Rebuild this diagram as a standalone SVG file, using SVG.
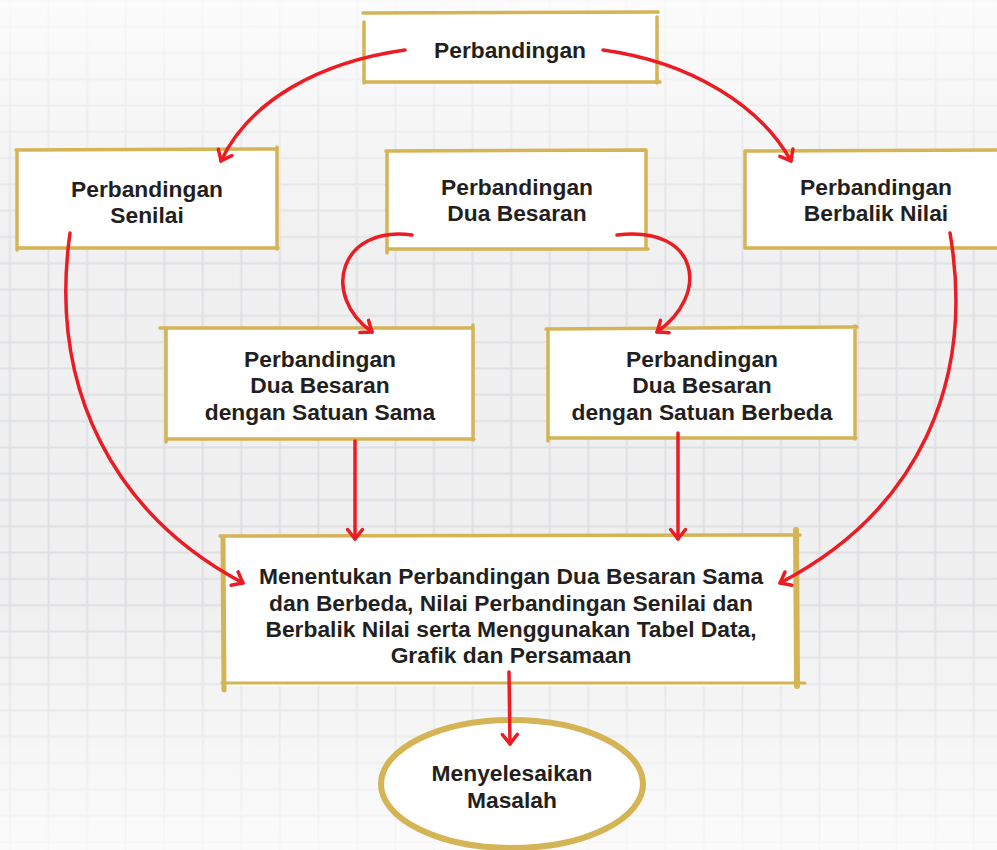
<svg xmlns="http://www.w3.org/2000/svg" width="997" height="850" viewBox="0 0 997 850">
  <defs>
    <pattern id="grid" patternUnits="userSpaceOnUse" x="-9.275" y="-12.85" width="38.55" height="26.3">
      <path d="M19.275,0 V26.3 M0,13.15 H38.55" stroke="#dcdde1" stroke-width="2" fill="none"/>
    </pattern>
    <linearGradient id="haze" x1="0" y1="0" x2="0" y2="1">
      <stop offset="0" stop-color="#ffffff" stop-opacity="0.8"/>
      <stop offset="0.3" stop-color="#ffffff" stop-opacity="0.1"/>
      <stop offset="0.7" stop-color="#ffffff" stop-opacity="0.05"/>
      <stop offset="1" stop-color="#ffffff" stop-opacity="0.75"/>
    </linearGradient>
    <marker id="head" viewBox="-12 -10 16 20" markerWidth="16" markerHeight="20" refX="0" refY="0" orient="auto" markerUnits="userSpaceOnUse">
      <path d="M-9.5,-7.5 Q-4,-3 0,0 Q-4,3 -9.5,7.5" fill="none" stroke="#ec1c24" stroke-width="3.5" stroke-linecap="round" stroke-linejoin="round"/>
    </marker>
    <style>
      .box { fill: #ffffff; }
      .edge { fill: none; stroke: #d4b455; stroke-width: 3.5; stroke-linecap: round; }
      .label { font-family: "Liberation Sans", Arial, sans-serif; font-weight: bold; font-size: 22.8px; fill: #231f20; text-anchor: middle; }
      .wire { fill: none; stroke: #ec1c24; stroke-width: 3.5; stroke-linecap: round; marker-end: url(#head); }
    </style>
  </defs>

  <!-- squared paper background -->
  <rect width="997" height="850" fill="#efefef"/>
  <rect width="997" height="850" fill="url(#grid)"/>
  <rect width="997" height="850" fill="url(#haze)"/>

  <!-- nodes -->
  <g id="perbandingan">
    <rect class="box" x="364" y="13" width="293" height="69"/>
    <path class="edge" d="M363,13 L658,12 M364,22 L364,83 M657,17 L657,83 M364,82 L660,82"/>
    <text class="label" x="510" y="58">Perbandingan</text>
  </g>

  <g id="senilai">
    <rect class="box" x="17" y="150" width="260" height="98"/>
    <path class="edge" d="M16,150 L277,149 M17,152 L17,250 M277,147 L277,249 M17,248 L278,248"/>
    <text class="label" x="147" y="197">Perbandingan</text>
    <text class="label" x="147" y="223">Senilai</text>
  </g>

  <g id="dua-besaran">
    <rect class="box" x="387" y="150" width="259" height="99"/>
    <path class="edge" d="M386,151 L645,150 M387,151 L387,253 M646,150 L646,249 M387,249 L648,249"/>
    <text class="label" x="517" y="195">Perbandingan</text>
    <text class="label" x="517" y="221">Dua Besaran</text>
  </g>

  <g id="berbalik-nilai">
    <rect class="box" x="745" y="150" width="252" height="98"/>
    <path class="edge" d="M745,151 L997,150 M745,152 L745,248 M745,248 L997,248"/>
    <text class="label" x="876" y="195">Perbandingan</text>
    <text class="label" x="876" y="221">Berbalik Nilai</text>
  </g>

  <g id="satuan-sama">
    <rect class="box" x="166" y="328" width="307" height="111"/>
    <path class="edge" d="M160,328 L473,328 M166,330 L166,442 M473,325 L473,440 M166,439 L474,439"/>
    <text class="label" x="320" y="367">Perbandingan</text>
    <text class="label" x="320" y="393">Dua Besaran</text>
    <text class="label" x="320" y="420">dengan Satuan Sama</text>
  </g>

  <g id="satuan-berbeda">
    <rect class="box" x="548" y="328" width="307" height="110"/>
    <path class="edge" d="M546,329 L857,327 M548,331 L548,441 M855,326 L855,439 M548,438 L856,438"/>
    <text class="label" x="702" y="367">Perbandingan</text>
    <text class="label" x="702" y="393">Dua Besaran</text>
    <text class="label" x="702" y="420">dengan Satuan Berbeda</text>
  </g>

  <g id="menentukan">
    <rect class="box" x="222" y="536" width="575" height="150"/>
    <path class="edge" d="M220,536 L800,535"/>
    <path class="edge" d="M223,538 L224,690" style="stroke-width:5"/>
    <path class="edge" d="M796,530 L797,686" style="stroke-width:6"/>
    <path class="edge" d="M222,683 L805,683" style="stroke-width:3"/>
    <text class="label" x="511" y="584">Menentukan Perbandingan Dua Besaran Sama</text>
    <text class="label" x="511" y="611">dan Berbeda, Nilai Perbandingan Senilai dan</text>
    <text class="label" x="511" y="637">Berbalik Nilai serta Menggunakan Tabel Data,</text>
    <text class="label" x="511" y="663">Grafik dan Persamaan</text>
  </g>

  <g id="menyelesaikan">
    <ellipse cx="512" cy="784" rx="131" ry="64" fill="#ffffff" stroke="#d4b455" stroke-width="6"/>
    <text class="label" x="512" y="781">Menyelesaikan</text>
    <text class="label" x="512" y="808">Masalah</text>
  </g>

  <!-- connectors -->
  <g id="connectors">
    <path class="wire" d="M405,50 C320,62 250,100 221,161"/>
    <path class="wire" d="M603,50 C690,62 760,105 791,161"/>
    <path class="wire" d="M70,233 C48,390 115,515 243,583"/>
    <path class="wire" d="M950,233 C975,380 920,510 780,583"/>
    <path class="wire" d="M412,235 C340,225 320,295 372,332"/>
    <path class="wire" d="M617,235 C700,225 710,295 657,332"/>
    <path class="wire" d="M355,441 L355,539"/>
    <path class="wire" d="M678,433 L678,539"/>
    <path class="wire" d="M509,672 L510,744"/>
  </g>
</svg>
